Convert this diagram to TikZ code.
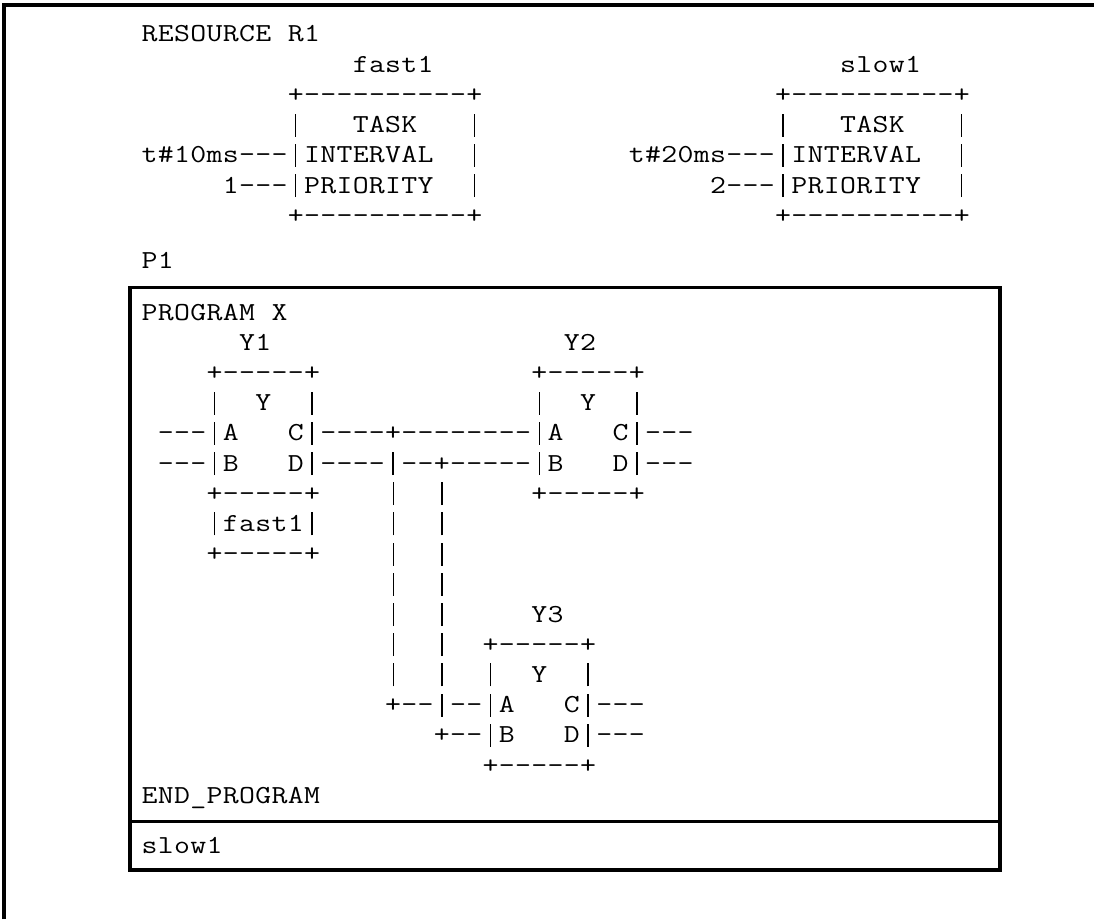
\documentclass[tikz,border=0pt]{standalone}
\usepackage{fontspec}
\usepackage{graphicx}
% fixed character grid: every character sits centred in a cell of equal width;
% the vertical bar is set as a tall thin rule so that stacked bars read as a line
\newlength\cellw
\setlength\cellw{16.245pt}
\def\barchar{|}
\newcommand\tallbar{\rule[-4pt]{1.4pt}{23pt}}
\makeatletter
\newcommand\gridrow[1]{\@tfor\gch:=#1\do{%
  \makebox[\cellw][c]{\ifx\gch\barchar\tallbar\else\scalebox{1}[0.84]{\gch}\fi}}}
\makeatother
\begin{document}
\begin{tikzpicture}[x=1pt,y=-1pt,
  frameline/.style={line width=4pt},
  boxline/.style={line width=3.5pt},
  ascii/.style={anchor=base west, inner sep=0pt, outer sep=0pt,
    font=\ttfamily\fontsize{30.9pt}{30pt}\selectfont}]
\useasboundingbox (0,0) rectangle (1094,919);

% outer frame, open to the right and bottom
\draw[frameline] (4,919) -- (4,5) -- (1094,5);

% resource declaration with its two tasks
\begin{scope}[shift={(141.4,41.7)}, x=16.245pt, y=-30.3pt]
  \node[ascii] (res)   at (0,0)  {\gridrow{RESOURCE~R1}};
  \node[ascii] (fname) at (13,1) {\gridrow{fast1}};
  \node[ascii] (sname) at (43,1) {\gridrow{slow1}};
  \node[ascii] (ftop)  at (9,2)  {\gridrow{+----------+}};
  \node[ascii] (stop)  at (39,2) {\gridrow{+----------+}};
  \node[ascii] (ftask) at (9,3)  {\gridrow{|~~~TASK~~~|}};
  \node[ascii] (stask) at (39,3) {\gridrow{|~~~TASK~~~|}};
  \node[ascii] (fint)  at (0,4)  {\gridrow{t\#10ms---|INTERVAL~~|}};
  \node[ascii] (sint)  at (30,4) {\gridrow{t\#20ms---|INTERVAL~~|}};
  \node[ascii] (fpri)  at (5,5)  {\gridrow{1---|PRIORITY~~|}};
  \node[ascii] (spri)  at (35,5) {\gridrow{2---|PRIORITY~~|}};
  \node[ascii] (fbot)  at (9,6)  {\gridrow{+----------+}};
  \node[ascii] (sbot)  at (39,6) {\gridrow{+----------+}};
\end{scope}

% program instance label
\node[ascii] (p1) at (141.4,268.3) {\gridrow{P1}};

% program body frame and its task row
\coordinate (bxnw) at (130,287.5);
\coordinate (bxse) at (1000,870);
\draw[boxline] (bxnw) rectangle (bxse);
\draw[boxline] (bxnw |- 0,821.5) -- (bxse |- 0,821.5);

% program body
\begin{scope}[shift={(141.4,320)}, x=16.245pt, y=-30.2pt]
  \node[ascii] (prg)  at (0,0)   {\gridrow{PROGRAM~X}};
  \node[ascii] (y1n)  at (6,1)   {\gridrow{Y1}};
  \node[ascii] (y2n)  at (26,1)  {\gridrow{Y2}};
  \node[ascii] (y1t)  at (4,2)   {\gridrow{+-----+}};
  \node[ascii] (y2t)  at (24,2)  {\gridrow{+-----+}};
  \node[ascii] (y1y)  at (4,3)   {\gridrow{|~~Y~~|}};
  \node[ascii] (y2y)  at (24,3)  {\gridrow{|~~Y~~|}};
  \node[ascii] (rac)  at (1,4)   {\gridrow{---|A~~~C|----+--------|A~~~C|---}};
  \node[ascii] (rbd)  at (1,5)   {\gridrow{---|B~~~D|----|--+-----|B~~~D|---}};
  \node[ascii] (r6)   at (4,6)   {\gridrow{+-----+~~~~|~~|~~~~~+-----+}};
  \node[ascii] (r7)   at (4,7)   {\gridrow{|fast1|~~~~|~~|}};
  \node[ascii] (r8)   at (4,8)   {\gridrow{+-----+~~~~|~~|}};
  \node[ascii] (r9)   at (15,9)  {\gridrow{|~~|}};
  \node[ascii] (r10)  at (15,10) {\gridrow{|~~|~~~~~Y3}};
  \node[ascii] (r11)  at (15,11) {\gridrow{|~~|~~+-----+}};
  \node[ascii] (r12)  at (15,12) {\gridrow{|~~|~~|~~Y~~|}};
  \node[ascii] (r13)  at (15,13) {\gridrow{+--|--|A~~~C|---}};
  \node[ascii] (r14)  at (18,14) {\gridrow{+--|B~~~D|---}};
  \node[ascii] (r15)  at (21,15) {\gridrow{+-----+}};
  \node[ascii] (endp) at (0,16)  {\gridrow{END\_PROGRAM}};
\end{scope}

% task association row
\node[ascii] (slow) at (141.4,853.3) {\gridrow{slow1}};
\end{tikzpicture}
\end{document}
